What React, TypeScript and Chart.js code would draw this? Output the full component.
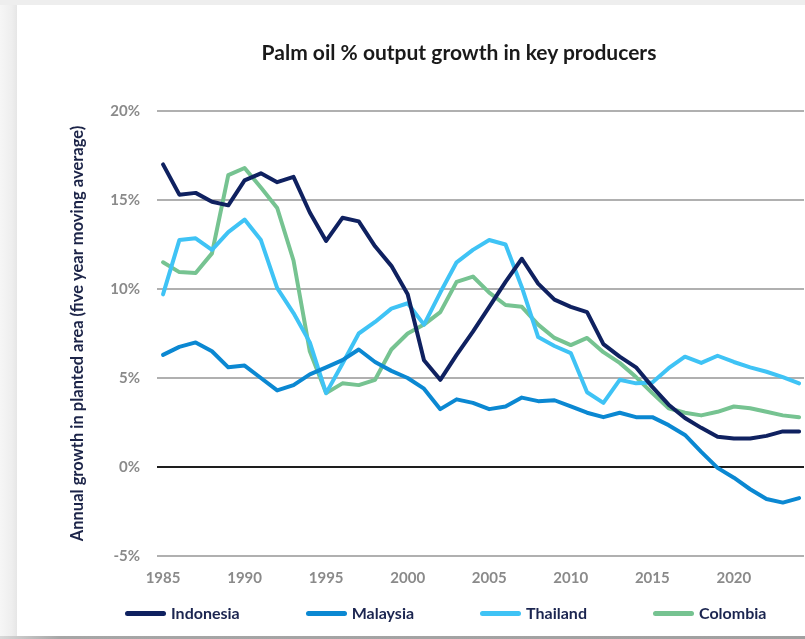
import React, { useEffect, useRef } from "react";
import { Chart, registerables } from "chart.js";

Chart.register(...registerables);

const years = [
  1985, 1986, 1987, 1988, 1989, 1990, 1991, 1992, 1993, 1994,
  1995, 1996, 1997, 1998, 1999, 2000, 2001, 2002, 2003, 2004,
  2005, 2006, 2007, 2008, 2009, 2010, 2011, 2012, 2013, 2014,
  2015, 2016, 2017, 2018, 2019, 2020, 2021, 2022, 2023, 2024,
];

const indonesia = [
  17.0, 15.3, 15.4, 14.9, 14.7, 16.1, 16.5, 16.0, 16.3, 14.3,
  12.7, 14.0, 13.8, 12.4, 11.3, 9.7, 6.0, 4.9, 6.3, 7.6,
  9.0, 10.4, 11.7, 10.3, 9.4, 9.0, 8.7, 6.9, 6.2, 5.6,
  4.5, 3.5, 2.75, 2.2, 1.7, 1.6, 1.6, 1.75, 2.0, 2.0,
];

const malaysia = [
  6.3, 6.75, 7.0, 6.5, 5.6, 5.7, 5.0, 4.3, 4.6, 5.2,
  5.6, 6.0, 6.6, 5.9, 5.4, 5.0, 4.4, 3.25, 3.8, 3.6,
  3.25, 3.4, 3.9, 3.7, 3.75, 3.4, 3.05, 2.8, 3.05, 2.8,
  2.8, 2.35, 1.8, 0.85, -0.05, -0.6, -1.25, -1.8, -2.0, -1.75,
];

const thailand = [
  9.7, 12.75, 12.85, 12.2, 13.2, 13.9, 12.75, 10.05, 8.65, 7.0,
  4.15, 5.8, 7.5, 8.15, 8.9, 9.2, 8.0, 9.8, 11.5, 12.2,
  12.75, 12.5, 10.1, 7.3, 6.8, 6.4, 4.2, 3.6, 4.9, 4.7,
  4.75, 5.55, 6.2, 5.85, 6.25, 5.9, 5.6, 5.35, 5.05, 4.7,
];

const colombia = [
  11.5, 10.95, 10.9, 12.0, 16.4, 16.8, 15.7, 14.55, 11.6, 6.5,
  4.15, 4.7, 4.6, 4.9, 6.6, 7.5, 8.0, 8.7, 10.4, 10.7,
  9.8, 9.1, 9.0, 8.0, 7.25, 6.85, 7.25, 6.45, 5.85, 5.05,
  4.15, 3.3, 3.05, 2.9, 3.1, 3.4, 3.3, 3.1, 2.9, 2.8,
];

const seriesNames = ["Indonesia", "Malaysia", "Thailand", "Colombia"];
const seriesColors = ["#0f2160", "#0b88d2", "#3fc3f5", "#76c391"];

const xTickValues = [1985, 1990, 1995, 2000, 2005, 2010, 2015, 2020];
const yTickValues = [-5, 0, 5, 10, 15, 20];

const chartTitle = "Palm oil % output growth in key producers";
const yAxisTitle = "Annual growth in planted area (five year moving average)";

const FONT = "Lato, 'Open Sans', 'Liberation Sans', sans-serif";

export default function App() {
  const canvasRef = useRef<HTMLCanvasElement | null>(null);

  useEffect(() => {
    const seriesValues = [indonesia, malaysia, thailand, colombia];
    const chart = new Chart(canvasRef.current as HTMLCanvasElement, {
      type: "line",
      data: {
        datasets: seriesNames.map((name, k) => ({
          label: name,
          data: years.map((yr, i) => ({ x: yr, y: seriesValues[k][i] })),
          borderColor: seriesColors[k],
          backgroundColor: seriesColors[k],
          borderWidth: 4,
          pointRadius: 0,
          tension: 0,
          fill: false,
          borderJoinStyle: "round",
          borderCapStyle: "round",
        })),
      },
      options: {
        animation: false,
        responsive: false,
        maintainAspectRatio: false,
        layout: { padding: { top: 106, left: 0, right: 1, bottom: 0 } },
        plugins: {
          legend: { display: false },
          title: { display: false },
          tooltip: { enabled: false },
        },
        scales: {
          x: {
            type: "linear",
            min: 1984.63,
            max: 2024.3,
            afterBuildTicks: (s: any) => {
              s.ticks = xTickValues.map((v) => ({ value: v }));
            },
            afterFit: (s: any) => {
              s.height = 80;
            },
            grid: { display: false, drawTicks: false },
            border: { display: false },
            ticks: {
              padding: 13,
              color: "#8a8a8a",
              font: { family: FONT, size: 15, weight: "bold" },
              maxRotation: 0,
              autoSkip: false,
              callback: (v: any) => String(v),
            },
          },
          y: {
            min: -5,
            max: 20,
            afterBuildTicks: (s: any) => {
              s.ticks = yTickValues.map((v) => ({ value: v }));
            },
            afterFit: (s: any) => {
              s.width = 140;
            },
            grid: {
              color: (ctx: any) =>
                ctx.tick && ctx.tick.value === 0 ? "#1e1e1e" : "#b0b0b0",
              lineWidth: 2,
              drawTicks: false,
            },
            border: { display: false },
            ticks: {
              padding: 17,
              color: "#8a8a8a",
              font: { family: FONT, size: 15, weight: "bold" },
              callback: (v: any) => v + "%",
            },
            title: {
              display: true,
              text: yAxisTitle,
              color: "#1c2448",
              font: { family: FONT, size: 16.5, weight: "bold" },
              padding: { top: 51, bottom: 0 },
            },
          },
        },
      },
    } as any);
    return () => chart.destroy();
  }, []);

  return (
    <div
      style={{
        position: "fixed",
        left: 0,
        top: 0,
        width: 805,
        height: 639,
        overflow: "hidden",
        background: "linear-gradient(to right, #f6f6f6 0px, #eeeeee 12px, #e6e6e6 17px)",
      }}
    >
      <div
        style={{
          position: "absolute",
          left: 0,
          top: 0,
          width: 805,
          height: 5,
          background: "#eeeeee",
        }}
      />
      <div
        style={{
          position: "absolute",
          left: 0,
          top: 636,
          width: 805,
          height: 3,
          background: "linear-gradient(to right, #d8d8d8 0px, #a6a6a6 60px, #a0a0a0 100%)",
        }}
      />
      <div
        style={{
          position: "absolute",
          left: 17,
          top: 5,
          width: 788,
          height: 631,
          background: "#ffffff",
        }}
      >
        <canvas ref={canvasRef} width={788} height={631} style={{ display: "block" }} />
      </div>
      <div
        style={{
          position: "absolute",
          left: 459,
          top: 39,
          transform: "translateX(-50%)",
          whiteSpace: "nowrap",
          fontFamily: FONT,
          fontWeight: 700,
          fontSize: 21,
          lineHeight: "26px",
          color: "#1a1a1a",
        }}
      >
        {chartTitle}
      </div>
      <div
        style={{
          position: "absolute",
          left: 125,
          top: 603,
          height: 20,
          display: "flex",
          alignItems: "center",
          gap: 66,
          whiteSpace: "nowrap",
        }}
      >
        {seriesNames.map((name, k) => (
          <div key={name} style={{ display: "flex", alignItems: "center" }}>
            <span
              style={{
                display: "inline-block",
                width: 41,
                height: 5,
                borderRadius: 3,
                background: seriesColors[k],
                marginRight: 5,
              }}
            />
            <span
              style={{
                fontFamily: FONT,
                fontWeight: 700,
                fontSize: 16,
                lineHeight: "20px",
                color: "#1b2550",
              }}
            >
              {name}
            </span>
          </div>
        ))}
      </div>
    </div>
  );
}
